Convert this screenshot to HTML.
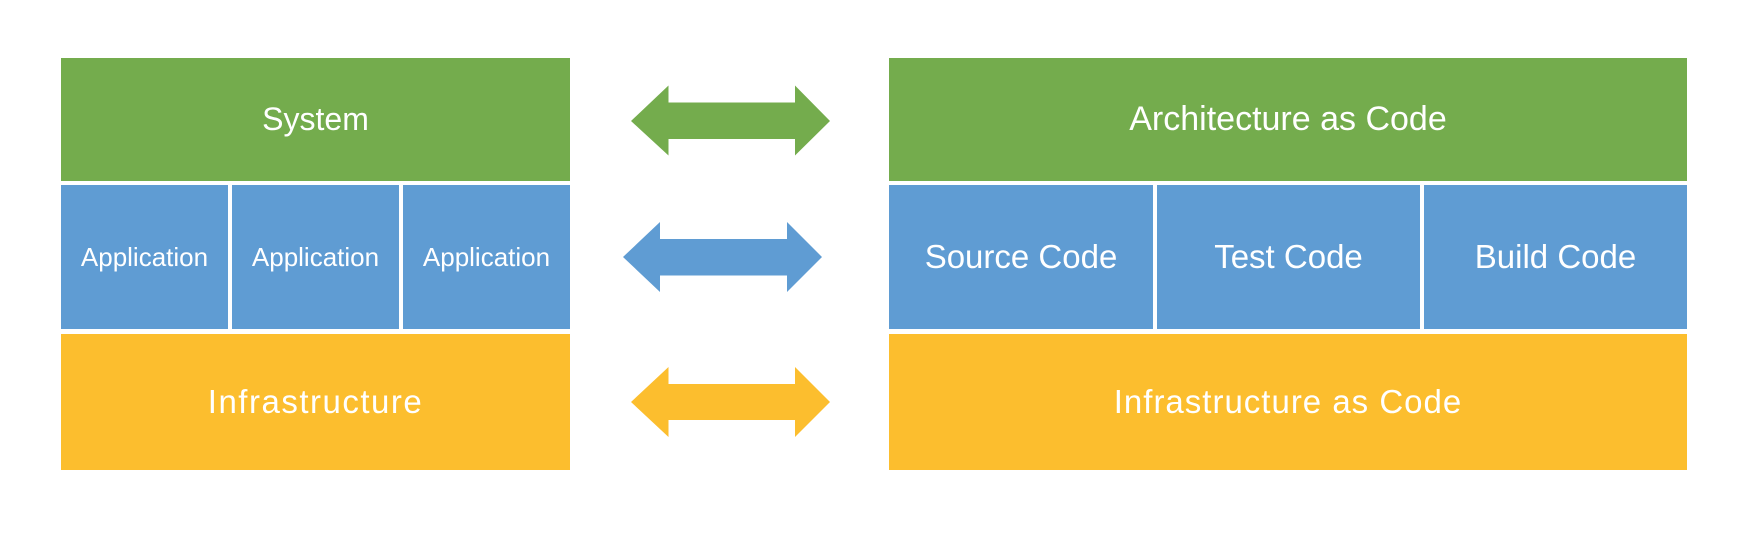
<!DOCTYPE html>
<html><head><meta charset="utf-8"><style>
html,body{margin:0;padding:0;background:#fff;width:1744px;height:540px;overflow:hidden}
.b{position:absolute;display:flex;align-items:center;justify-content:center;color:#fff;font-family:"Liberation Sans",sans-serif;font-size:33px}
.g{background:#74AC4D}.u{background:#5F9CD3}.y{background:#FCBE2E}
.s{font-size:26px}
</style></head><body>
<div class="b g" style="left:61px;top:58px;width:509px;height:123px;font-size:32px">System</div>
<div class="b u s" style="left:61px;top:185px;width:167px;height:144px">Application</div>
<div class="b u s" style="left:232px;top:185px;width:167px;height:144px">Application</div>
<div class="b u s" style="left:403px;top:185px;width:167px;height:144px">Application</div>
<div class="b y" style="left:61px;top:334px;width:509px;height:136px;letter-spacing:1.5px">Infrastructure</div>

<div class="b g" style="left:889px;top:58px;width:798px;height:123px;font-size:34px">Architecture as Code</div>
<div class="b u" style="left:889px;top:185px;width:264px;height:144px">Source Code</div>
<div class="b u" style="left:1157px;top:185px;width:263px;height:144px">Test Code</div>
<div class="b u" style="left:1424px;top:185px;width:263px;height:144px">Build Code</div>
<div class="b y" style="left:889px;top:334px;width:798px;height:136px;letter-spacing:1px">Infrastructure as Code</div>

<svg width="1744" height="540" style="position:absolute;left:0;top:0">
<polygon fill="#74AC4D" points="631,121 668.5,85.5 668.5,102.5 795,102.5 795,85.5 830,121 795,155.5 795,139 668.5,139 668.5,155.5"/>
<polygon fill="#5F9CD3" points="623,257 660,222 660,239 787,239 787,222 822,257 787,292 787,275.5 660,275.5 660,292"/>
<polygon fill="#FCBE2E" points="631,402 668.5,367 668.5,384 795,384 795,367 830,402 795,437 795,420 668.5,420 668.5,437"/>
</svg>
</body></html>
